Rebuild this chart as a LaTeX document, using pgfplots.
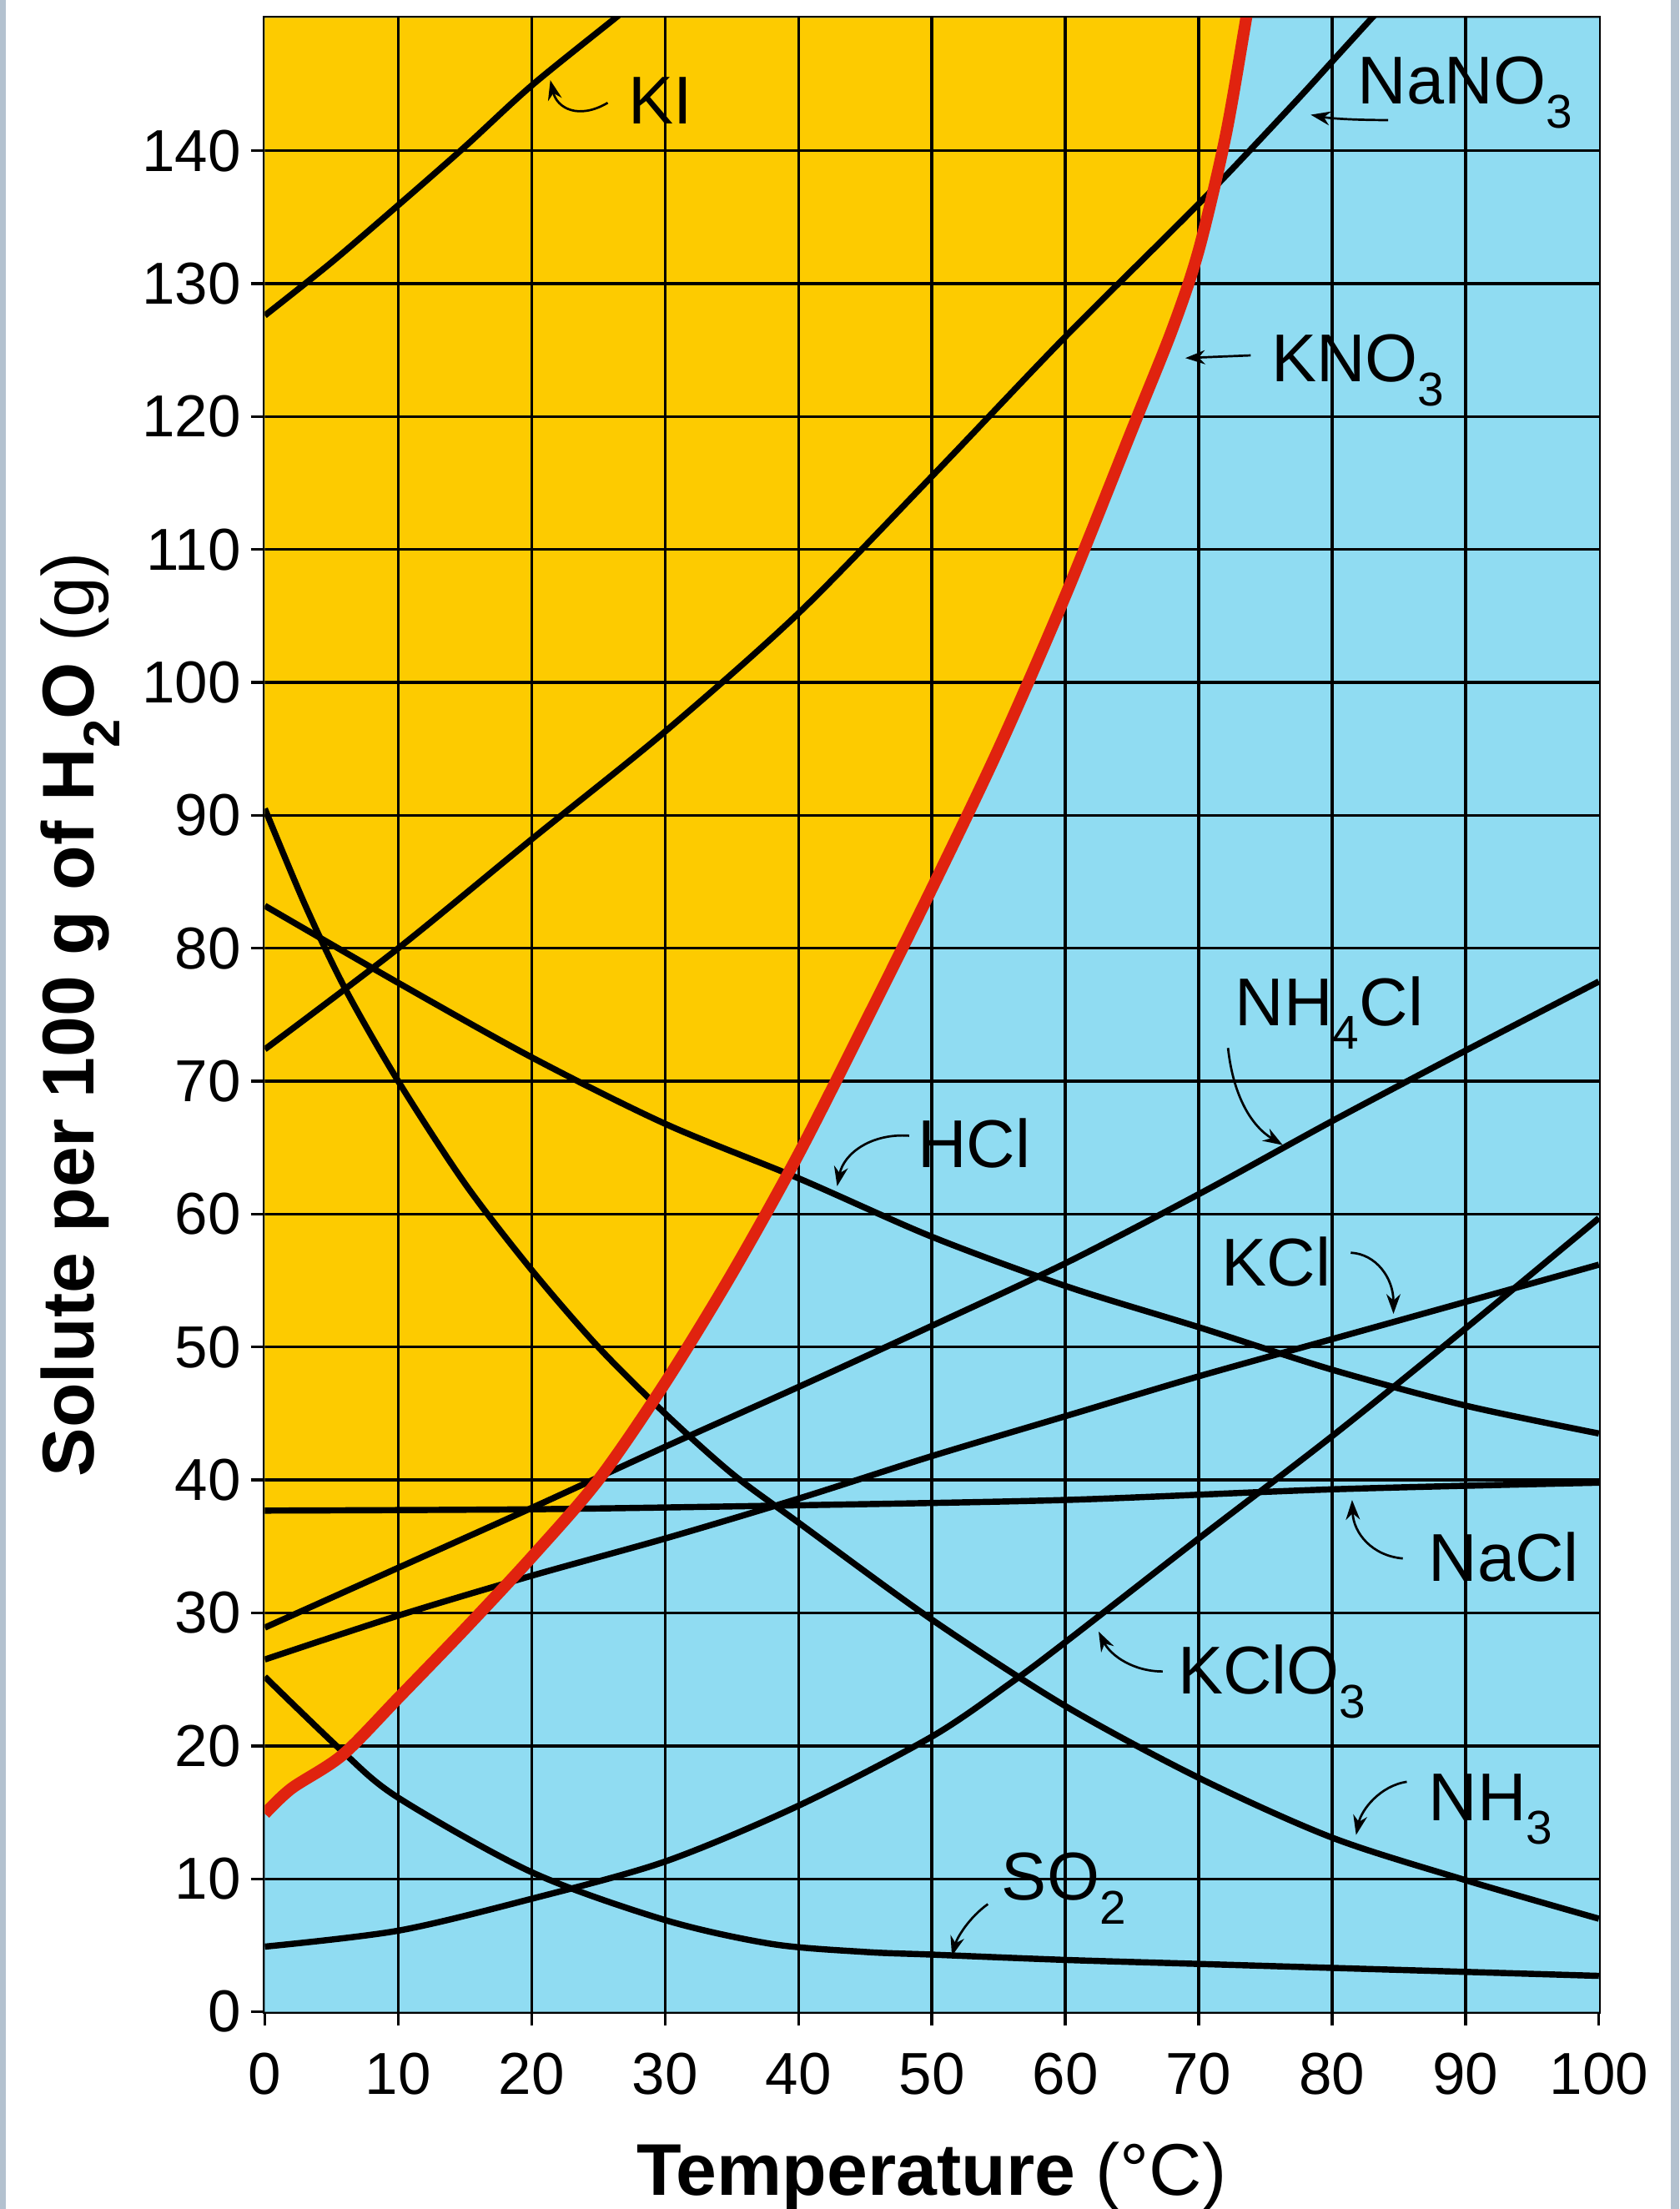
\documentclass[border=0pt]{standalone}
\usepackage{fontspec}
\setmainfont{Liberation Sans}
\usepackage{graphicx}
\usepackage{pgfplots}
\pgfplotsset{compat=1.18}
\usetikzlibrary{arrows.meta}
\definecolor{gold}{HTML}{FDCB00}
\definecolor{sky}{HTML}{90DCF2}
\definecolor{kred}{HTML}{E0230F}
\definecolor{strip}{HTML}{B3C1CF}
\newcommand{\sub}[1]{\raisebox{-0.35em}{\scalebox{0.7}{#1}}}
\newcommand{\lab}[1]{\fontsize{24}{28}\selectfont #1}
\begin{document}
\begin{tikzpicture}
\useasboundingbox (-94pt,-70pt) rectangle (502pt,714pt);
\fill[strip] (-94pt,-70pt) rectangle (-92pt,714pt);
\fill[strip] (499pt,-70pt) rectangle (502pt,714pt);
\begin{axis}[
  at={(0pt,0pt)}, anchor=south west,
  scale only axis, width=473.5pt, height=707.7pt,
  xmin=0, xmax=100, ymin=0, ymax=150,
  xtick={0,10,...,100}, ytick={0,10,...,140},
  axis line style={black, line width=1.3pt},
  tick style={black, line width=1pt},
  tick align=outside, major tick length=5pt,
  xtick pos=left, ytick pos=left,
  ticklabel style={font=\fontsize{21}{24}\selectfont},
  xticklabel style={yshift=-6pt},
  /pgf/number format/assume math mode=true,
  xlabel={\textbf{Temperature} (°C)},
  ylabel={\textbf{Solute per 100 g of H\sub{2}O} (g)},
  xlabel style={font=\fontsize{26}{30}\selectfont, at={(axis description cs:0.5,-0.0827)}, anchor=center},
  ylabel style={font=\fontsize{26}{30}\selectfont, at={(axis description cs:-0.1383,0.5)}, anchor=center},
]
% background regions
\addplot[draw=none, fill=sky] coordinates {(0,0) (100,0) (100,150) (0,150) (0,0)};
\addplot[draw=none, fill=gold] coordinates {
(0,150) (0,14.9) (2,16.8) (5.8,19.3) (10,23.6) (15,28.8) (20,34.2) (25,40) (30,47.3) (35,55.5) (40,64.5) (45,74.4) (50,84.5) (55,95) (60,106.5) (65,119) (68,126.5) (70,132.5) (72,141) (73.4,149) (73.6,150) (0,150)};
% grid
\pgfplotsinvokeforeach{10,20,...,90}{\draw[black, line width=1pt] (axis cs:#1,0) -- (axis cs:#1,150);}
\pgfplotsinvokeforeach{10,20,...,140}{\draw[black, line width=1pt] (axis cs:0,#1) -- (axis cs:100,#1);}
% black curves
\addplot[black, line width=2.2pt, smooth] coordinates {(0,127.6) (5,131.6) (10,135.9) (15,140.3) (20,144.9) (26.3,150) (27,150.6)}; % KI
\addplot[black, line width=2.2pt, smooth] coordinates {(0,72.4) (10,80) (20,88.2) (30,96.3) (40,105.2) (50,115.5) (60,126) (70,136) (76.9,143.3) (80,146.7) (83,150) (84,151)}; % NaNO3
\addplot[black, line width=2.2pt, smooth] coordinates {(0,83.2) (10,77.4) (20,71.8) (30,66.8) (40,62.7) (50,58.3) (60,54.6) (70,51.5) (80,48.3) (90,45.6) (100,43.5)}; % HCl
\addplot[black, line width=2.2pt, smooth] coordinates {(0,28.9) (10,33.4) (20,37.9) (30,42.5) (40,47) (50,51.6) (60,56.3) (70,61.5) (80,67) (90,72.3) (100,77.5)}; % NH4Cl
\addplot[black, line width=2.2pt, smooth] coordinates {(0,26.5) (10,29.8) (20,32.8) (30,35.6) (40,38.6) (50,41.8) (60,44.8) (70,47.8) (80,50.6) (90,53.4) (100,56.2)}; % KCl
\addplot[black, line width=2.2pt, smooth] coordinates {(0,37.7) (20,37.8) (40,38.1) (60,38.5) (80,39.3) (100,39.8)}; % NaCl
\addplot[black, line width=2.2pt, smooth] coordinates {(0,90.5) (3,83.3) (6,77) (10,70) (15,62.3) (20,55.8) (25,50) (30,45) (35,40.5) (40,36.8) (50,29.5) (60,23) (70,17.6) (80,13.1) (90,9.9) (100,7)}; % NH3
\addplot[black, line width=2.2pt, smooth] coordinates {(0,4.9) (10,6.1) (20,8.5) (30,11.3) (40,15.5) (50,20.7) (56,24.8) (60,27.8) (70,35.6) (80,43.3) (90,51.4) (100,59.7)}; % KClO3
\addplot[black, line width=2.2pt, smooth] coordinates {(0,25.2) (5.8,19.6) (10,16.1) (20,10.5) (30,6.9) (38,5.1) (45,4.5) (50,4.3) (60,3.9) (70,3.6) (80,3.3) (90,3) (100,2.7)}; % SO2
% KNO3 red
\addplot[kred, line width=4.2pt, smooth] coordinates {(0,14.9) (2,16.8) (5.8,19.3) (10,23.6) (15,28.8) (20,34.2) (25,40) (30,47.3) (35,55.5) (40,64.5) (45,74.4) (50,84.5) (55,95) (60,106.5) (65,119) (68,126.5) (70,132.5) (72,141) (73.4,149) (73.8,151.5)};
% arrows
\begin{scope}[line width=0.8pt, -{Stealth[length=7pt,width=5pt]}]
\draw (axis cs:25.7,143.6) .. controls (axis cs:23.5,142.3) and (axis cs:21.9,143.2) .. (axis cs:21.4,145.3);
\draw (axis cs:84.2,142.3) .. controls (axis cs:82,142.3) and (axis cs:80,142.4) .. (axis cs:78.4,142.7);
\draw (axis cs:73.9,124.6) -- (axis cs:69.0,124.4);
\draw (axis cs:72.2,72.5) .. controls (axis cs:72.6,68.8) and (axis cs:74,66.6) .. (axis cs:76.3,65.2);
\draw (axis cs:48.3,65.9) .. controls (axis cs:45.5,66.1) and (axis cs:43.4,64.6) .. (axis cs:42.9,62.1);
\draw (axis cs:81.4,57.1) .. controls (axis cs:83.3,57) and (axis cs:84.6,55.2) .. (axis cs:84.6,52.5);
\draw (axis cs:85.3,34.1) .. controls (axis cs:83,34.3) and (axis cs:81.6,36) .. (axis cs:81.5,38.5);
\draw (axis cs:67.3,25.6) .. controls (axis cs:65.1,25.6) and (axis cs:63.4,26.8) .. (axis cs:62.5,28.6);
\draw (axis cs:85.6,17.3) .. controls (axis cs:83.6,17) and (axis cs:82.2,15.2) .. (axis cs:81.8,13.3);
\draw (axis cs:54.2,8.1) .. controls (axis cs:52.8,7.1) and (axis cs:51.9,5.6) .. (axis cs:51.5,4.2);
\end{scope}
% labels
\begin{scope}[every node/.style={anchor=base west, inner sep=0pt, text=black}]
\node at (axis cs:27.2,142) {\lab{KI}};
\node at (axis cs:81.9,143.5) {\lab{NaNO\sub{3}}};
\node at (axis cs:75.4,122.6) {\lab{KNO\sub{3}}};
\node at (axis cs:72.7,74.2) {\lab{NH\sub{4}Cl}};
\node at (axis cs:48.9,63.5) {\lab{HCl}};
\node at (axis cs:71.7,54.6) {\lab{KCl}};
\node at (axis cs:87.2,32.4) {\lab{NaCl}};
\node at (axis cs:68.4,23.9) {\lab{KClO\sub{3}}};
\node at (axis cs:87.2,14.4) {\lab{NH\sub{3}}};
\node at (axis cs:55.2,8.4) {\lab{SO\sub{2}}};
\end{scope}
\end{axis}
\end{tikzpicture}
\end{document}
